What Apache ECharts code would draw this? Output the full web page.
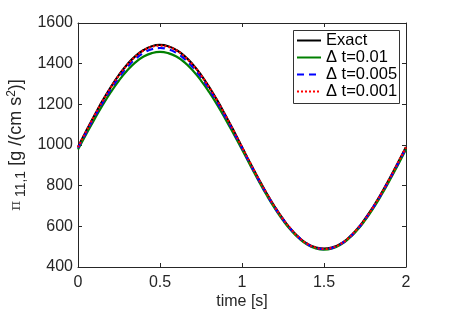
<!DOCTYPE html>
<html><head><meta charset="utf-8">
<script src="https://cdn.jsdelivr.net/npm/echarts@6/dist/echarts.min.js"></script>
<style>html,body{margin:0;padding:0;background:#fff}#c{width:449px;height:310px}</style>
</head><body><div id="c"></div>
<script>
const times = [0,0.05,0.1,0.15,0.2,0.25,0.3,0.35,0.4,0.45,0.5,0.55,0.6,0.65,0.7,0.75,0.8,0.85,0.9,0.95,1,1.05,1.1,1.15,1.2,1.25,1.3,1.35,1.4,1.45,1.5,1.55,1.6,1.65,1.7,1.75,1.8,1.85,1.9,1.95,2];
const exact = [990,1069,1145,1218,1285,1345,1396,1437,1467,1486,1492,1486,1467,1437,1396,1345,1285,1218,1145,1069,990,911,835,763,696,636,584,543,513,496,490,496,513,543,584,636,696,763,835,911,990];
const dt001 = [978,1053,1126,1196,1260,1317,1366,1406,1435,1452,1458,1452,1435,1406,1366,1317,1260,1196,1126,1053,978,901,826,754,688,629,579,539,509,491,485,491,509,539,579,629,688,754,826,901,978];
const dt0005 = [985,1062,1137,1208,1274,1333,1383,1423,1453,1471,1477,1471,1453,1423,1383,1333,1274,1208,1137,1062,985,907,831,759,693,634,583,542,512,494,488,494,512,542,583,634,693,759,831,907,985];
const dt0001 = [989,1067,1144,1216,1283,1343,1394,1435,1465,1483,1489,1483,1465,1435,1394,1343,1283,1216,1144,1067,989,911,834,762,695,635,585,543,513,495,489,495,513,543,585,635,695,762,834,911,989];
const seriesNames = ['Exact','\u0394 t=0.01','\u0394 t=0.005','\u0394 t=0.001'];
const xTicks = [0,0.5,1,1.5,2];
const yTicks = [400,600,800,1000,1200,1400,1600];

const pair = arr => arr.map((v,i)=>[times[i],v]);
const font = 'Helvetica, Arial, "Liberation Sans", sans-serif';
const axisCol = '#262626';
const baseAxis = {
  axisLine:{show:true,onZero:false,lineStyle:{color:axisCol,width:1}},
  axisTick:{show:true,inside:true,length:4,lineStyle:{color:axisCol}},
  splitLine:{show:false}
};
const chart = echarts.init(document.getElementById('c'));
chart.setOption({
  animation:false,
  textStyle:{fontFamily:font},
  grid:{left:78,right:43,top:23,bottom:43,containLabel:false,outerBoundsMode:'none'},
  graphic:[{type:'rect',z:-1,shape:{x:293.5,y:30.5,width:106,height:73},style:{fill:'#fff',stroke:'#333',lineWidth:1}}],
  xAxis:[
    Object.assign({type:'value',min:xTicks[0],max:xTicks[xTicks.length-1],interval:0.5,position:'bottom',
      name:'time [s]',nameLocation:'middle',nameGap:27,nameMoveOverlap:false,
      nameTextStyle:{fontSize:16,color:axisCol,fontFamily:font},
      axisLabel:{fontSize:16,color:axisCol,margin:8,fontFamily:font,formatter:v=>String(v)}},baseAxis),
    Object.assign({type:'value',min:0,max:2,interval:0.5,position:'top',axisLabel:{show:false}},baseAxis)
  ],
  yAxis:[
    Object.assign({type:'value',min:yTicks[0],max:yTicks[yTicks.length-1],interval:200,position:'left',
      name:'{p|\u03c0}{s| 11,1}{n| [g /(cm s}{sup|2}{n|)]}',nameLocation:'middle',nameGap:50,nameRotate:90,nameMoveOverlap:false,
      nameTextStyle:{rich:{
        p:{fontSize:15,color:'#555',fontFamily:'DejaVu Serif, serif'},
        s:{fontSize:14,color:axisCol,fontFamily:font,padding:[9,0,0,0]},
        n:{fontSize:18,color:axisCol,fontFamily:font},
        sup:{fontSize:12,color:axisCol,fontFamily:font,padding:[0,0,10,0]}
      }},
      axisLabel:{fontSize:16,color:axisCol,margin:5,fontFamily:font,formatter:v=>String(v)}},baseAxis),
    Object.assign({type:'value',min:400,max:1600,interval:200,position:'right',axisLabel:{show:false}},baseAxis)
  ],
  legend:{
    left:296,top:32,orient:'vertical',itemWidth:24,itemHeight:12,itemGap:0,itemTextGap:1,
    padding:0,borderWidth:0,
    itemStyle:{opacity:0},
    textStyle:{fontSize:16.5,color:'#000',fontFamily:font},
    data:seriesNames
  },
  series:[
    {name:seriesNames[0],type:'line',data:pair(exact),smooth:true,showSymbol:false,symbol:'none',z:2,lineStyle:{color:'#000',width:2.2},itemStyle:{color:'#000'}},
    {name:seriesNames[1],type:'line',data:pair(dt001),smooth:true,showSymbol:false,symbol:'none',z:3,lineStyle:{color:'#008000',width:2.2},itemStyle:{color:'#008000'}},
    {name:seriesNames[2],type:'line',data:pair(dt0005),smooth:true,showSymbol:false,symbol:'none',z:4,lineStyle:{color:'#0000ff',width:2.2,type:[7,5]},itemStyle:{color:'#0000ff'}},
    {name:seriesNames[3],type:'line',data:pair(dt0001),smooth:true,showSymbol:false,symbol:'none',z:5,lineStyle:{color:'#ff0000',width:2.2,type:[2,2]},itemStyle:{color:'#ff0000'}}
  ]
});
</script></body></html>
